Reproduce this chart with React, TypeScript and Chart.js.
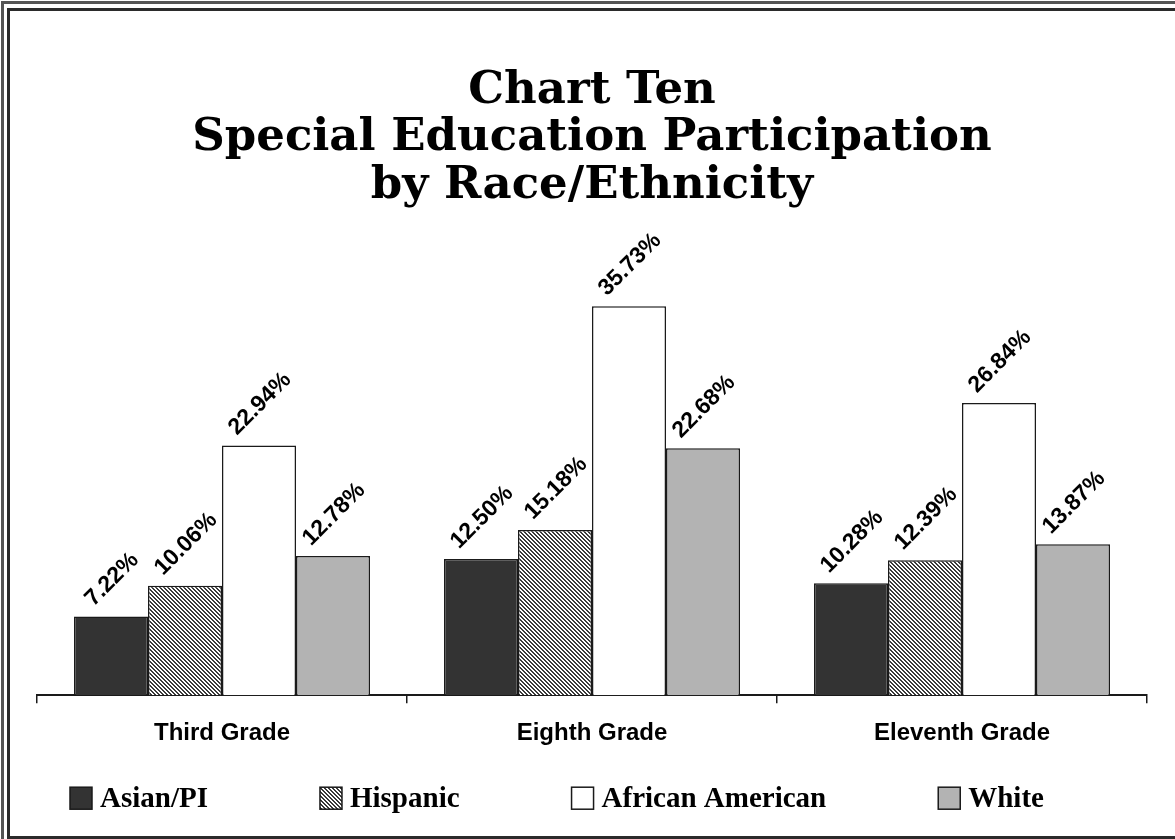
import { useEffect, useRef } from "react";
import { Chart, registerables } from "chart.js";

Chart.register(...registerables);

// Grades on the category axis
const grades = ["Third Grade", "Eighth Grade", "Eleventh Grade"];

// Participation rate (%) per group, one value per grade
const asianPI = [7.22, 12.5, 10.28];
const hispanic = [10.06, 15.18, 12.39];
const africanAmerican = [22.94, 35.73, 26.84];
const white = [12.78, 22.68, 13.87];

const groupNames = ["Asian/PI", "Hispanic", "African American", "White"];
const titleLines = ["Chart Ten", "Special Education Participation", "by Race/Ethnicity"];

const W = 1175;
const H = 839;

function makeHatch(): CanvasPattern | string {
  const c = document.createElement("canvas");
  c.width = 4;
  c.height = 4;
  const g = c.getContext("2d");
  if (!g) return "#999999";
  g.fillStyle = "#ffffff";
  g.fillRect(0, 0, 4, 4);
  g.fillStyle = "#3a3a3a";
  for (let y = 0; y < 4; y++) {
    for (let x = 0; x < 4; x++) {
      if ((((x - y) % 4) + 4) % 4 < 2) g.fillRect(x, y, 1, 1);
    }
  }
  return g.createPattern(c, "repeat") ?? "#999999";
}

// Double frame around the whole figure
const framePlugin = {
  id: "frame",
  beforeDraw(chart: Chart) {
    const ctx = chart.ctx;
    ctx.save();
    ctx.fillStyle = "#ffffff";
    ctx.fillRect(0, 0, W, H);
    ctx.fillStyle = "#555555";
    ctx.fillRect(1, 1, 3, H);
    ctx.fillRect(1, 1, W, 3);
    ctx.fillStyle = "#2b2b2b";
    ctx.fillRect(7, 8, 3, H);
    ctx.fillRect(7, 8, W, 3);
    ctx.fillRect(7, 836, W, 3);
    ctx.restore();
  },
};

// Rotated percentage labels above each bar
const valueLabelPlugin = {
  id: "valueLabels",
  afterDatasetsDraw(chart: Chart) {
    const ctx = chart.ctx;
    ctx.save();
    ctx.font = 'bold 23px "Liberation Sans", Arial, sans-serif';
    ctx.fillStyle = "#000000";
    ctx.textAlign = "center";
    ctx.textBaseline = "middle";
    chart.data.datasets.forEach((ds, di) => {
      const meta = chart.getDatasetMeta(di);
      meta.data.forEach((el: any, i: number) => {
        const v = ds.data[i] as number;
        const text = `${v.toFixed(2)}%`;
        const w = ctx.measureText(text).width;
        const off = w * 0.354 + 14;
        ctx.save();
        ctx.translate(el.x + 1, el.y - off);
        ctx.rotate(-Math.PI / 4);
        ctx.fillText(text, 0, 0);
        ctx.restore();
      });
    });
    ctx.restore();
  },
};

// Legend row along the bottom
const legendRowPlugin = {
  id: "legendRow",
  afterDraw(chart: Chart) {
    const ctx = chart.ctx;
    const area = chart.chartArea;
    ctx.save();
    ctx.font = 'bold 29px "Liberation Serif", "Times New Roman", serif';
    ctx.textBaseline = "middle";
    ctx.textAlign = "left";
    const box = 22;
    const textGap = 8;
    const itemGap = 112;
    const cy = area.bottom + 103;
    let x = area.left + 33;
    chart.data.datasets.forEach((ds: any) => {
      const label = ds.label as string;
      ctx.fillStyle = ds.backgroundColor;
      ctx.fillRect(x, cy - box / 2, box, box);
      ctx.strokeStyle = "#1a1a1a";
      ctx.lineWidth = 1.5;
      ctx.strokeRect(x, cy - box / 2, box, box);
      ctx.fillStyle = "#000000";
      ctx.fillText(label, x + box + textGap, cy + 1);
      x += box + textGap + ctx.measureText(label).width + itemGap;
    });
    ctx.restore();
  },
};

export default function App() {
  const ref = useRef<HTMLCanvasElement | null>(null);

  useEffect(() => {
    if (!ref.current) return;
    const hatch = makeHatch();
    const border = "#1a1a1a";
    const chart = new Chart(ref.current, {
      type: "bar",
      data: {
        labels: grades,
        datasets: [
          { label: groupNames[0], data: asianPI, backgroundColor: "#333333", borderColor: border, borderWidth: 1.5 },
          { label: groupNames[1], data: hispanic, backgroundColor: hatch as any, borderColor: border, borderWidth: 1.5 },
          { label: groupNames[2], data: africanAmerican, backgroundColor: "#ffffff", borderColor: border, borderWidth: 1.5 },
          { label: groupNames[3], data: white, backgroundColor: "#b3b3b3", borderColor: border, borderWidth: 1.5 },
        ],
      },
      options: {
        responsive: false,
        animation: false,
        devicePixelRatio: 1,
        layout: { padding: { left: 37, right: 28, top: 0, bottom: 75 } },
        datasets: { bar: { categoryPercentage: 0.8, barPercentage: 1.0 } },
        plugins: {
          legend: { display: false },
          tooltip: { enabled: false },
          title: {
            display: true,
            text: titleLines,
            color: "#000000",
            font: { family: '"DejaVu Serif", serif', weight: "bold", size: 45, lineHeight: 1.06 },
            padding: { top: 67, bottom: 6 },
          },
        },
        scales: {
          x: {
            offset: true,
            border: { display: true, color: "#1a1a1a", width: 2 },
            grid: {
              display: true,
              offset: true,
              drawOnChartArea: false,
              drawTicks: true,
              tickLength: 8,
              color: "#1a1a1a",
              lineWidth: 1.5,
            },
            ticks: {
              color: "#000000",
              padding: 16,
              font: { family: '"Liberation Sans", Arial, sans-serif', weight: "bold", size: 24 },
            },
          },
          y: { display: false, min: 0, max: 44 },
        },
      },
      plugins: [framePlugin, valueLabelPlugin, legendRowPlugin],
    });
    return () => chart.destroy();
  }, []);

  return (
    <div style={{ position: "fixed", left: 0, top: 0, width: W, height: H, background: "#ffffff" }}>
      <canvas ref={ref} width={W} height={H} style={{ display: "block" }} />
    </div>
  );
}
